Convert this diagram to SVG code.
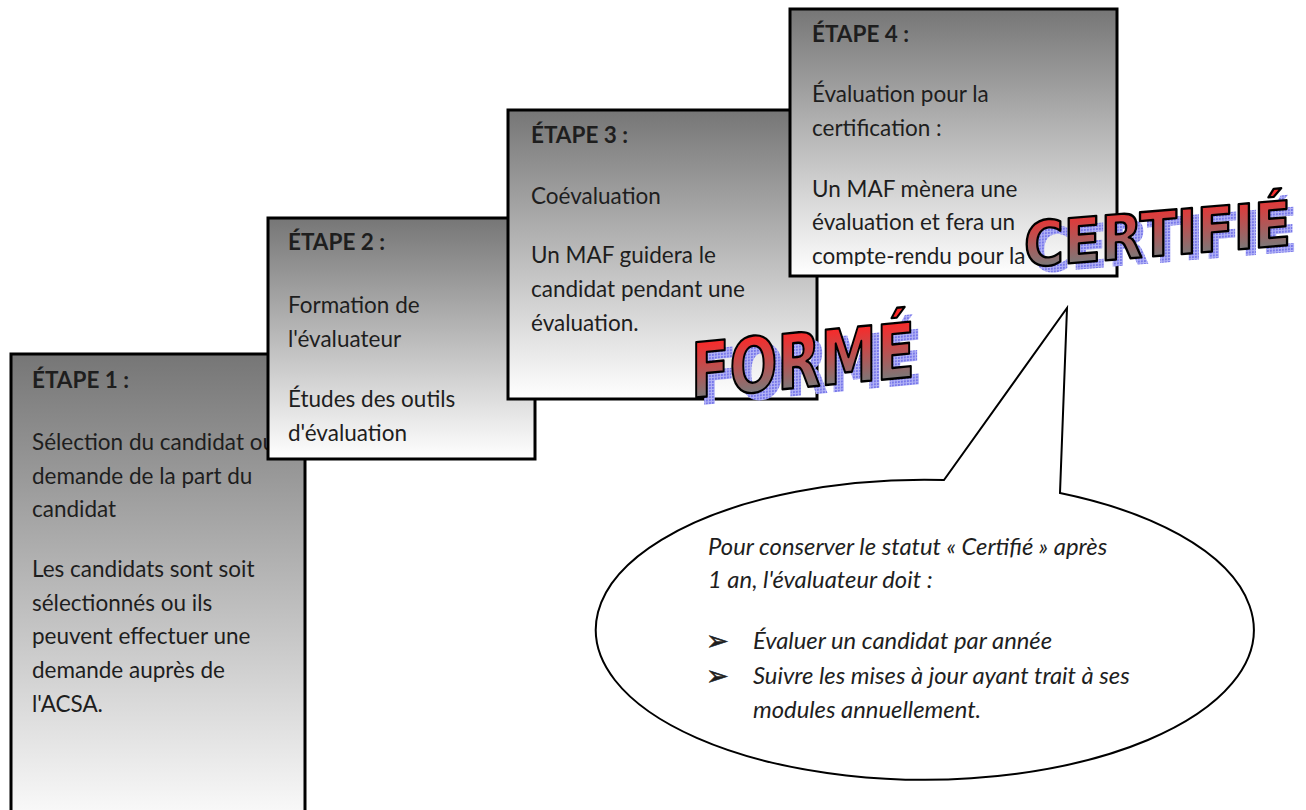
<svg xmlns="http://www.w3.org/2000/svg" width="1306" height="810" viewBox="0 0 1306 810">
<style>
.box{stroke:#000;stroke-width:3;fill:url(#boxg)}
.t{font-family:Lato,"Open Sans","Liberation Sans",sans-serif;font-size:22.5px;fill:#1e1e1e}
.h{font-weight:bold}
.ci{font-family:Lato,"Open Sans","Liberation Sans",sans-serif;font-size:23.8px;font-style:italic;fill:#1e1e1e}
.bul{font-family:"DejaVu Sans",sans-serif;font-size:27px;fill:#1e1e1e;stroke:#1e1e1e;stroke-width:0.6}
.wa{font-family:"DejaVu Sans Condensed","DejaVu Sans",sans-serif;font-weight:bold;stroke:#000;stroke-width:2.4;stroke-linejoin:round}
.wash{font-family:"DejaVu Sans Condensed","DejaVu Sans",sans-serif;font-weight:bold;fill:url(#dots)}
</style>
<defs>
<linearGradient id="boxg" x1="0" y1="0" x2="0" y2="1">
<stop offset="0" stop-color="#767676"/>
<stop offset="1" stop-color="#ffffff"/>
</linearGradient>
<linearGradient id="wag" gradientUnits="userSpaceOnUse" x1="0" y1="-58" x2="0" y2="0">
<stop offset="0" stop-color="#ff2626"/>
<stop offset="1" stop-color="#7c7878"/>
</linearGradient>
<pattern id="dots" width="3" height="3" patternUnits="userSpaceOnUse">
<rect width="3" height="3" fill="#b4b4f6"/>
<rect width="2" height="2" fill="#7878ea"/>
</pattern>
<clipPath id="clip4"><rect x="790" y="9" width="327" height="257"/></clipPath>
</defs>
<g id="connectors"/>
<g id="step1">
<rect class="box" x="11" y="354" width="294" height="480"/>
<text class="t h" x="32" y="388">ÉTAPE 1 :</text>
<text class="t" x="32" y="450">Sélection du candidat ou</text>
<text class="t" x="32" y="483.7">demande de la part du</text>
<text class="t" x="32" y="517.4">candidat</text>
<text class="t" x="32" y="577">Les candidats sont soit</text>
<text class="t" x="32" y="610.7">sélectionnés ou ils</text>
<text class="t" x="32" y="644.4">peuvent effectuer une</text>
<text class="t" x="32" y="678.1">demande auprès de</text>
<text class="t" x="32" y="711.8">l'ACSA.</text>
</g>
<g id="step2">
<rect class="box" x="268" y="218" width="267" height="241"/>
<text class="t h" x="288" y="250">ÉTAPE 2 :</text>
<text class="t" x="288" y="313">Formation de</text>
<text class="t" x="288" y="347">l'évaluateur</text>
<text class="t" x="288" y="407">Études des outils</text>
<text class="t" x="288" y="441">d'évaluation</text>
</g>
<g id="step3">
<rect class="box" x="508" y="110" width="309" height="289"/>
<text class="t h" x="531" y="143">ÉTAPE 3 :</text>
<text class="t" x="531" y="204">Coévaluation</text>
<text class="t" x="531" y="263">Un MAF guidera le</text>
<text class="t" x="531" y="297">candidat pendant une</text>
<text class="t" x="531" y="331">évaluation.</text>
</g>
<g id="step4">
<rect class="box" x="790" y="9" width="327" height="267"/>
<g clip-path="url(#clip4)">
<text class="t h" x="812" y="42">ÉTAPE 4 :</text>
<text class="t" x="812" y="102">Évaluation pour la</text>
<text class="t" x="812" y="136">certification :</text>
<text class="t" x="812" y="197">Un MAF mènera une</text>
<text class="t" x="812" y="230">évaluation et fera un</text>
<text class="t" x="812" y="264">compte-rendu pour la</text>
</g>
</g>
<g id="callout">
<path d="M944 480 L1067 308 L1060 493 A329 150 0 1 1 944 480 Z" fill="#fff" stroke="#000" stroke-width="2" stroke-linejoin="miter"/>
<text class="ci" x="708" y="555">Pour conserver le statut « Certifié » après</text>
<text class="ci" x="708" y="588">1 an, l'évaluateur doit :</text>
<text class="bul" x="706" y="650">➢</text>
<text class="ci" x="753" y="649">Évaluer un candidat par année</text>
<text class="bul" x="706" y="685">➢</text>
<text class="ci" x="753" y="684">Suivre les mises à jour ayant trait à ses</text>
<text class="ci" x="753" y="718">modules annuellement.</text>
</g>
<g id="forme" transform="translate(691,398) skewY(-5.5)">
<text class="wash" x="8" y="8" font-size="76" textLength="224" lengthAdjust="spacingAndGlyphs">FORMÉ</text>
<text class="wa" x="0" y="0" font-size="76" fill="url(#wag)" textLength="224" lengthAdjust="spacingAndGlyphs">FORMÉ</text>
</g>
<g id="certifie" transform="translate(1024,267) skewY(-4.7)">
<text class="wash" x="7" y="7" font-size="62" textLength="267" lengthAdjust="spacingAndGlyphs">CERTIFIÉ</text>
<text class="wa" x="0" y="0" font-size="62" fill="url(#wag)" textLength="267" lengthAdjust="spacingAndGlyphs">CERTIFIÉ</text>
</g>
</svg>
